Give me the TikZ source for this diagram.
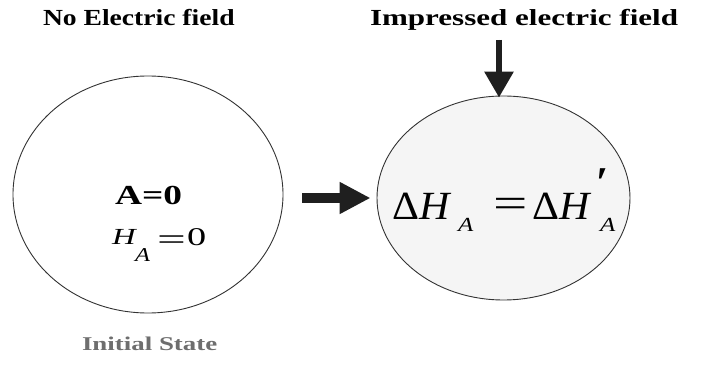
\documentclass[tikz,border=0pt]{standalone}
\usepackage{fontspec}
\setmainfont{Liberation Serif}
\usetikzlibrary{shapes.geometric,arrows.meta}
\newcommand{\fsz}[1]{\fontsize{#1}{#1}\selectfont}
\newcommand{\sx}[2]{\scalebox{#1}[1]{#2}}
\begin{document}
\begin{tikzpicture}[x=1pt,y=-1pt,
  state/.style={ellipse,draw=black!80,line width=0.9pt,inner sep=0pt},
  g/.style={anchor=base west,inner sep=0pt,outer sep=0pt},
  arrowcol/.style={draw=black!88,fill=black!88}]
\path[use as bounding box] (0,0) rectangle (705,371);
\node[state,minimum width=270pt,minimum height=237pt] (L) at (148,194.5) {};
\node[state,fill=black!4,minimum width=253pt,minimum height=204pt] (R) at (503.5,198) {};
% titles
\node[g,font=\bfseries\fsz{23}] (t1) at (43,25.5) {\sx{1.2}{No Electric field}};
\node[g,font=\bfseries\fsz{23}] (t2) at (370,25.5) {\sx{1.35}{Impressed electric field}};
% left state
\node[g,font=\bfseries\fsz{27.5}] (a0) at (115,205) {\sx{1.36}{A=0}};
\node[g,font=\itshape\fsz{23}] (hH) at (112,245) {\sx{1.42}{H}};
\node[g,font=\itshape\fsz{19.6}] (hA) at (135,262) {\sx{1.25}{A}};
\node[g,font=\fsz{30}] (heq) at (157,250) {\sx{1.7}{=}};
\node[g,font=\fsz{25.5}] (hz) at (187,245.5) {\sx{1.5}{0}};
% right state
\node[g,font=\fsz{40}] (d1) at (392,220) {\sx{1.05}{Δ\textit{H}}};
\node[g,font=\itshape\fsz{20}] (s1A) at (458,232) {\sx{1.25}{A}};
\node[g,font=\fsz{42}] (req) at (493,218) {\sx{1.45}{=}};
\node[g,font=\fsz{40}] (d2) at (532,220) {\sx{1.05}{Δ\textit{H}}};
\node[g,font=\bfseries\fsz{44}] (pr) at (596,198) {\symbol{"2032}};
\node[g,font=\itshape\fsz{20}] (s2A) at (600,232) {\sx{1.25}{A}};
% caption
\node[g,font=\bfseries\fsz{19.5},text=black!57] (is) at (82,351) {\sx{1.38}{Initial State}};
% arrows
\coordinate (c1) at (302,198);
\coordinate (c2) at (499,40);
\draw[arrowcol,line width=10pt,-{Triangle[length=31pt,width=30pt]},shorten >=6pt] (c1) -- (c1 -| R.west);
\draw[arrowcol,line width=6pt,-{Triangle[length=26pt,width=28pt]},shorten >=-2pt] (c2) -- (c2 |- R.north);
\end{tikzpicture}
\end{document}
